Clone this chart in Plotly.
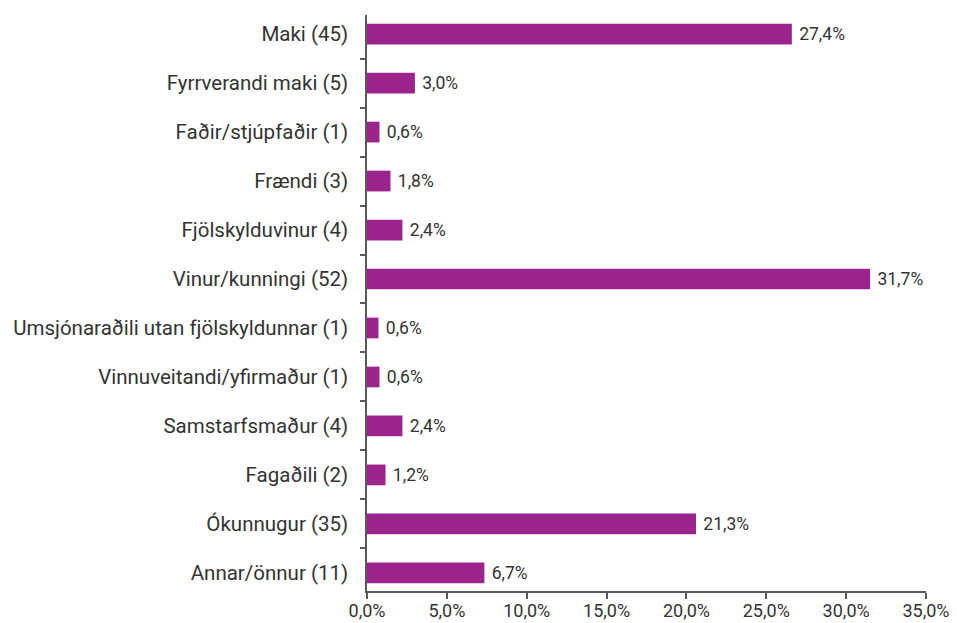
import plotly.graph_objects as go

categories = [
    "Maki (45)",
    "Fyrrverandi maki (5)",
    "Faðir/stjúpfaðir (1)",
    "Frændi (3)",
    "Fjölskylduvinur (4)",
    "Vinur/kunningi (52)",
    "Umsjónaraðili utan fjölskyldunnar (1)",
    "Vinnuveitandi/yfirmaður (1)",
    "Samstarfsmaður (4)",
    "Fagaðili (2)",
    "Ókunnugur (35)",
    "Annar/önnur (11)",
]
# bar lengths (percent)
bar_values = [26.6, 3.0, 0.78, 1.47, 2.22, 31.5, 0.72, 0.78, 2.22, 1.16, 20.6, 7.35]
# printed value labels
value_labels = ["27,4%", "3,0%", "0,6%", "1,8%", "2,4%", "31,7%", "0,6%", "0,6%",
                "2,4%", "1,2%", "21,3%", "6,7%"]
x_ticks = [0, 5, 10, 15, 20, 25, 30, 35]
x_tick_labels = ["0,0%", "5,0%", "10,0%", "15,0%", "20,0%", "25,0%", "30,0%", "35,0%"]

BAR = "#9B258D"
TXT = "#333333"
AX = "#595959"
FONT = "Roboto"

fig = go.Figure(go.Bar(
    x=bar_values,
    y=categories,
    orientation="h",
    marker=dict(color=BAR, line=dict(width=0)),
    text=[" " + t for t in value_labels],
    textposition="outside",
    textfont=dict(family=FONT, size=17.5, color=TXT),
    cliponaxis=False,
    hoverinfo="skip",
))

fig.update_layout(
    template="none",
    width=949, height=615,
    margin=dict(l=359, r=31, t=7, b=32, autoexpand=False),
    paper_bgcolor="white", plot_bgcolor="white",
    bargap=0.577,
    showlegend=False,
    font=dict(family=FONT, color=TXT),
)
fig.update_xaxes(
    range=[0, 35], tickvals=x_ticks, ticktext=x_tick_labels,
    showgrid=False, zeroline=False, automargin=False,
    showline=True, linecolor=AX, linewidth=1.5,
    ticks="outside", ticklen=6, tickcolor=AX, tickwidth=1.5,
    ticklabelstandoff=-3,
    tickfont=dict(family=FONT, size=18, color=TXT),
)
fig.update_yaxes(
    categoryorder="array", categoryarray=categories,
    range=[11.37, -0.39],
    showgrid=False, zeroline=False, automargin=False,
    showline=True, linecolor=AX, linewidth=1.5,
    ticks="outside", ticklen=5, tickcolor=AX, tickwidth=1.5,
    tickson="boundaries", ticklabelstandoff=13,
    tickfont=dict(family=FONT, size=20.5, color=TXT),
)

fig.write_html("out.html")
